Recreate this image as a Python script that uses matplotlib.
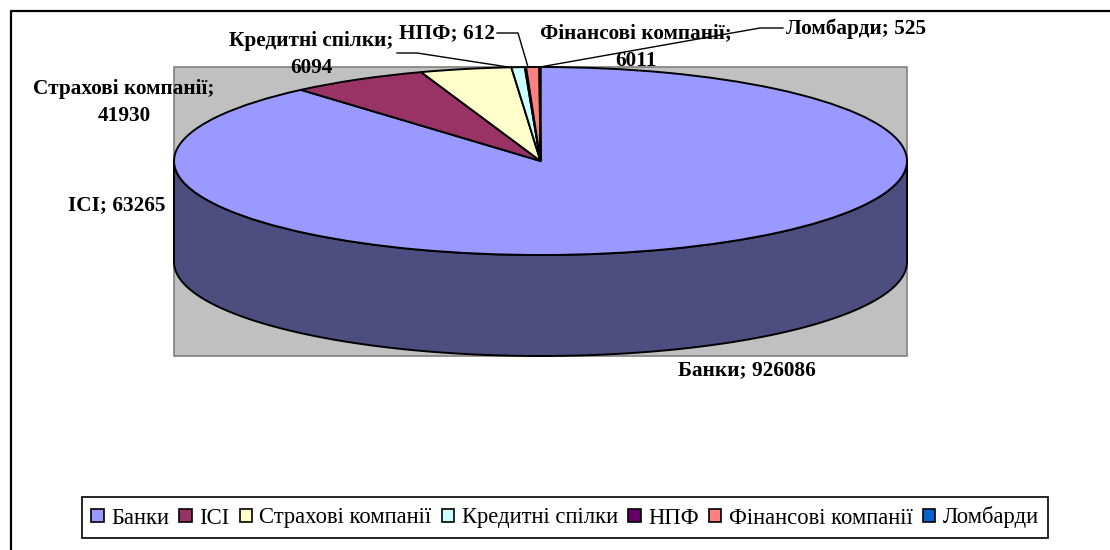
import matplotlib
matplotlib.use('Agg')
import matplotlib.pyplot as plt
import numpy as np
from matplotlib.patches import Patch, Polygon, Rectangle

labels = ["Банки", "ІСІ", "Страхові компанії", "Кредитні спілки", "НПФ", "Фінансові компанії", "Ломбарди"]
values = [926086, 63265, 41930, 6094, 612, 6011, 525]
colors = ['#9999FF', '#993366', '#FFFFCC', '#CCFFFF', '#660066', '#FF8080', '#0066CC']

W, H = 1110, 550
plt.rcParams['font.family'] = ['Liberation Serif', 'DejaVu Serif']

fig = plt.figure(figsize=(W / 100, H / 100), dpi=100)

# whole figure in pixels, for the frames, labels and leader lines
bg = fig.add_axes([0, 0, 1, 1])
bg.set_xlim(0, W)
bg.set_ylim(H, 0)
bg.axis('off')
# the outer frame only shows on the top and left
bg.plot([11, 11, W], [H, 11, 11], color='black', lw=1.6)
bg.add_patch(Rectangle((174, 67), 733, 289, fc='#C0C0C0', ec='#808080', lw=1.2))


def px_axes(x0, y0, x1, y1):
    ax = fig.add_axes([x0 / W, 1 - y1 / H, (x1 - x0) / W, (y1 - y0) / H])
    return ax


# top of the pie: squashed by letting the axes aspect go
ax = px_axes(174, 67, 907, 255)
ax.pie(values, colors=colors, startangle=90, counterclock=False, radius=1,
       wedgeprops={'edgecolor': 'black', 'linewidth': 1.4})
ax.set_aspect('auto')
ax.set_xlim(-1, 1)
ax.set_ylim(-1, 1)
ax.patch.set_alpha(0)

# side wall
depth = 101 / 94
t = np.linspace(np.pi, 2 * np.pi, 200)
wall = np.column_stack([np.cos(t), np.sin(t) - depth])
wall = np.vstack([[[-1, 0]], wall, [[1, 0]], np.column_stack([np.cos(t[::-1]), np.sin(t[::-1])])])
ax.add_patch(Polygon(wall, closed=True, fc='#4D4D80', ec='black', lw=1.4, clip_on=False, zorder=0))

# data labels
top = fig.add_axes([0, 0, 1, 1])
top.set_xlim(0, W)
top.set_ylim(H, 0)
top.axis('off')
lab = dict(fontsize=15.3, fontweight='bold', ha='center', va='center', color='black')
top.text(311, 41, "Кредитні спілки;", **lab)
top.text(311, 68, "6094", **lab)
top.text(447, 33, "НПФ; 612", **lab)
top.text(636, 33, "Фінансові компанії;", **lab)
top.text(636, 61, "6011", **lab)
top.text(856, 29, "Ломбарди; 525", **lab)
top.text(124, 89, "Страхові компанії;", **lab)
top.text(124, 116, "41930", **lab)
top.text(117, 205, "ІСІ; 63265", **lab)
top.text(747, 370, "Банки; 926086", **lab)

# leader lines
top.plot([397, 417, 508], [53, 53, 67], color='black', lw=1)
top.plot([497, 518, 528], [33, 33, 67], color='black', lw=1)
top.plot([783, 760, 540], [28, 28, 67], color='black', lw=1)

handles = [Patch(fc=c, ec='black', lw=1.2) for c in colors]
leg = top.legend(handles, labels, ncols=7, loc='center', bbox_to_anchor=(565 / W, 1 - 517.5 / H),
                 prop={'size': 16.3}, fancybox=False, edgecolor='black', framealpha=1,
                 handlelength=0.55, handleheight=0.55, handletextpad=0.33, columnspacing=0.45,
                 borderpad=0.42, borderaxespad=0)
leg.get_frame().set_linewidth(1.2)

fig.savefig('out.png', dpi=100)
